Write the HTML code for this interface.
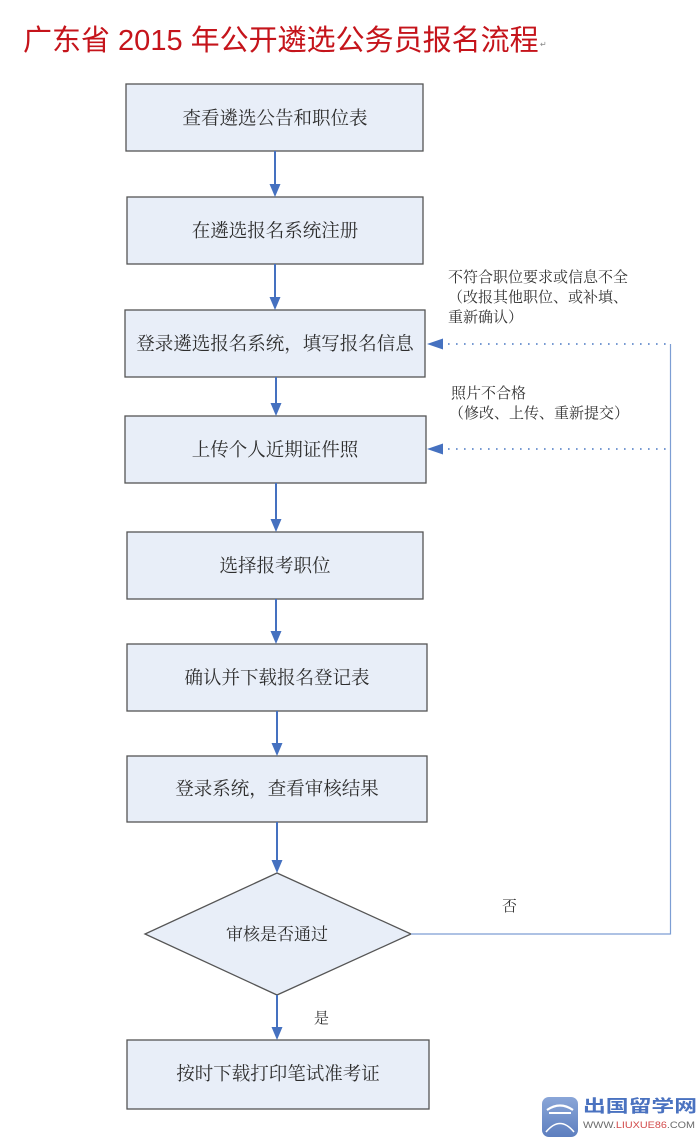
<!DOCTYPE html>
<html>
<head>
<meta charset="utf-8">
<style>
  html, body { margin: 0; padding: 0; background: #ffffff; }
  svg { display: block; }
  .box { fill: #e8eef8; stroke: #555555; stroke-width: 1.3; }
  .bt { font-family: "Liberation Serif", "Noto Serif CJK SC", serif; font-size: 18.5px; fill: #2e2e2e; text-anchor: middle; }
  .lb { font-family: "Liberation Serif", "Noto Serif CJK SC", serif; font-size: 15px; fill: #333333; }
  .ar { stroke: #4571c0; stroke-width: 2; fill: none; }
  .ah { fill: #4571c0; }
</style>
</head>
<body>
<svg width="700" height="1138" viewBox="0 0 700 1138" xmlns="http://www.w3.org/2000/svg">
  <rect width="700" height="1138" fill="#ffffff"/>

  <!-- Title -->
  <text x="23" y="50" font-family="'Liberation Sans', 'Noto Sans CJK SC', sans-serif" font-size="29" fill="#c5141b">广东省 2015 年公开遴选公务员报名流程</text>
  <text x="540" y="47" font-family="'DejaVu Sans', sans-serif" font-size="8" fill="#888">↵</text>

  <!-- Boxes -->
  <rect class="box" x="126" y="84" width="297" height="67"/>
  <text class="bt" x="275" y="124.5">查看遴选公告和职位表</text>

  <rect class="box" x="127" y="197" width="296" height="67"/>
  <text class="bt" x="275" y="237">在遴选报名系统注册</text>

  <rect class="box" x="125" y="310" width="300" height="67"/>
  <text class="bt" x="275" y="350">登录遴选报名系统，填写报名信息</text>

  <rect class="box" x="125" y="416" width="301" height="67"/>
  <text class="bt" x="275" y="456">上传个人近期证件照</text>

  <rect class="box" x="127" y="532" width="296" height="67"/>
  <text class="bt" x="275" y="572">选择报考职位</text>

  <rect class="box" x="127" y="644" width="300" height="67"/>
  <text class="bt" x="277" y="684">确认并下载报名登记表</text>

  <rect class="box" x="127" y="756" width="300" height="66"/>
  <text class="bt" x="277" y="795">登录系统，查看审核结果</text>

  <polygon class="box" points="277,873 411,934 277,995 145,934"/>
  <text class="bt" x="277" y="940" style="font-size:17px">审核是否通过</text>

  <rect class="box" x="127" y="1040" width="302" height="69"/>
  <text class="bt" x="278" y="1080">按时下载打印笔试准考证</text>

  <!-- Vertical arrows -->
  <g>
    <line class="ar" x1="275" y1="151" x2="275" y2="186"/>
    <polygon class="ah" points="269.5,184 280.5,184 275,197"/>

    <line class="ar" x1="275" y1="264" x2="275" y2="299"/>
    <polygon class="ah" points="269.5,297 280.5,297 275,310"/>

    <line class="ar" x1="276" y1="377" x2="276" y2="405"/>
    <polygon class="ah" points="270.5,403 281.5,403 276,416"/>

    <line class="ar" x1="276" y1="483" x2="276" y2="521"/>
    <polygon class="ah" points="270.5,519 281.5,519 276,532"/>

    <line class="ar" x1="276" y1="599" x2="276" y2="633"/>
    <polygon class="ah" points="270.5,631 281.5,631 276,644"/>

    <line class="ar" x1="277" y1="711" x2="277" y2="745"/>
    <polygon class="ah" points="271.5,743 282.5,743 277,756"/>

    <line class="ar" x1="277" y1="822" x2="277" y2="862"/>
    <polygon class="ah" points="271.5,860 282.5,860 277,873"/>

    <line class="ar" x1="277" y1="995" x2="277" y2="1029"/>
    <polygon class="ah" points="271.5,1027 282.5,1027 277,1040"/>
  </g>

  <!-- Feedback loop -->
  <line x1="411" y1="934" x2="670.5" y2="934" stroke="#7d9ed4" stroke-width="1.2"/>
  <line x1="670.5" y1="344" x2="670.5" y2="934.5" stroke="#7d9ed4" stroke-width="1.2"/>

  <line x1="448" y1="344" x2="668" y2="344" stroke="#4a78c4" stroke-width="1.6" stroke-dasharray="1.6 6.4"/>
  <polygon class="ah" points="427,344 443,338.5 443,349.5"/>

  <line x1="448" y1="449" x2="668" y2="449" stroke="#4a78c4" stroke-width="1.6" stroke-dasharray="1.6 6.4"/>
  <polygon class="ah" points="427,449 443,443.5 443,454.5"/>

  <!-- Labels -->
  <text class="lb" x="448" y="282">不符合职位要求或信息不全</text>
  <text class="lb" x="448" y="302">（改报其他职位、或补填、</text>
  <text class="lb" x="448" y="322">重新确认）</text>

  <text class="lb" x="451" y="398">照片不合格</text>
  <text class="lb" x="449" y="418">（修改、上传、重新提交）</text>

  <text class="lb" x="502" y="911">否</text>
  <text class="lb" x="314" y="1023">是</text>

  <!-- Logo -->
  <defs>
    <linearGradient id="lg" x1="0" y1="0" x2="0" y2="1">
      <stop offset="0" stop-color="#8aa6d8"/>
      <stop offset="1" stop-color="#5d7fbf"/>
    </linearGradient>
  </defs>
  <rect x="542" y="1097" width="36" height="40" rx="7" fill="url(#lg)"/>
  <path d="M547,1110 Q560,1101 573,1110" stroke="#ffffff" stroke-width="2.2" fill="none"/>
  <path d="M549,1113 L571,1113" stroke="#ffffff" stroke-width="2" fill="none"/>
  <path d="M546,1132 Q560,1115 574,1132" stroke="#ffffff" stroke-width="1.6" fill="none"/>
  <text x="583" y="1112" font-family="'Liberation Sans', 'Noto Sans CJK SC', sans-serif" font-size="17" font-weight="bold" fill="#4a72c0" textLength="114" lengthAdjust="spacingAndGlyphs">出国留学网</text>
  <text x="583" y="1128" font-family="'Liberation Sans', sans-serif" font-size="9.5" fill="#6a6a6a" textLength="112" lengthAdjust="spacingAndGlyphs">WWW.<tspan fill="#d24a4a">LIUXUE86</tspan>.COM</text>
</svg>
</body>
</html>
